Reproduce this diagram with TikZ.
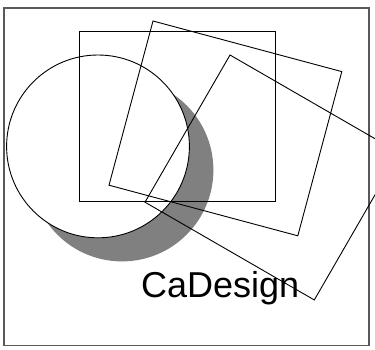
\documentclass[tikz,border=0pt]{standalone}
\usepackage{fontspec}
\setmainfont{Liberation Sans}
\begin{document}
\begin{tikzpicture}[x=1pt,y=-1pt,
  outline/.style={draw=black,line width=0.9pt},
  frame/.style={draw=black!65,line width=1.4pt}]
\useasboundingbox (0,0) rectangle (375,349);
\clip (0,0) rectangle (375,349);
% frame
\draw[frame] (4,8) rectangle (369,345.5);
% shadow
\fill[black!50] (122,170) circle[radius=91.4];
% circle
\filldraw[fill=white,outline] (98,146.4) circle[radius=91.4];
% axis-aligned rectangle
\draw[outline] (79.5,31) rectangle (275,201);
% rotated by 15 degrees
\draw[outline] (153,21) -- (341.8,71.6) -- (297.8,235.8) -- (109,185.2) -- cycle;
% rotated by 30 degrees
\draw[outline] (230,55) -- (399.3,152.75) -- (314.3,299.95) -- (145,202.2) -- cycle;
% label
\node[anchor=base west,inner sep=0pt,font=\fontsize{36}{40}\selectfont] (label) at (141,297.7) {CaDesign};
\end{tikzpicture}
\end{document}
